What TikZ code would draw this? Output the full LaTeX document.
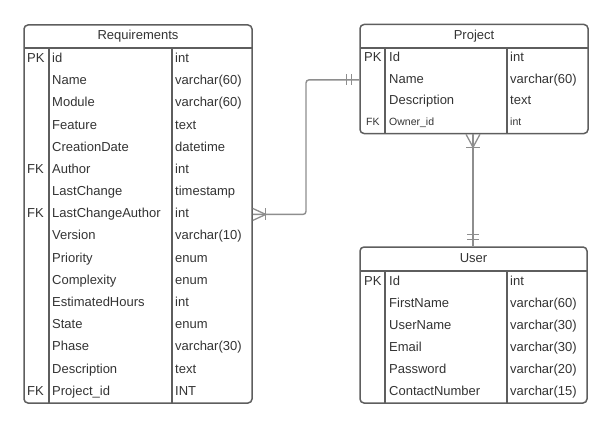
\documentclass[tikz,border=0pt]{standalone}
\usepackage{fontspec}
\setmainfont{Liberation Sans}
\definecolor{boxgray}{HTML}{5E5E5E}
\definecolor{linegray}{HTML}{8E8E8E}
\definecolor{txtgray}{HTML}{333333}
\begin{document}
\begin{tikzpicture}[x=1pt,y=-1pt,
  tbl/.style={draw=boxgray, line width=1.5pt, rounded corners=4pt, inner sep=0pt},
  sep/.style={draw=boxgray, line width=1.3pt},
  cell/.style={anchor=west, inner sep=0pt, text height=9.5pt, text depth=2.8pt,
    font=\fontsize{13}{15}\selectfont, text=txtgray},
  smallcell/.style={cell, font=\fontsize{10.5}{12}\selectfont},
  title/.style={cell, anchor=center},
  conn/.style={draw=linegray, line width=1.4pt, rounded corners=3pt},
  crow/.style={draw=linegray, line width=1.3pt}
]
\useasboundingbox (0,0) rectangle (612,428);

% ---------------- Requirements ----------------
\node[tbl, minimum width=228pt, minimum height=378pt] (req) at (138,214) {};
\draw[sep] (24,48) -- (252,48);
\draw[sep] (49,48) -- (49,403);
\draw[sep] (172,48) -- (172,403);
\node[title] (reqtitle) at (138,36) {Requirements};
\foreach [count=\i] \n/\t in {id/int, Name/varchar(60), Module/varchar(60),
  Feature/text, CreationDate/datetime, Author/int, LastChange/timestamp,
  LastChangeAuthor/int, Version/varchar(10), Priority/enum, Complexity/enum,
  EstimatedHours/int, State/enum, Phase/varchar(30), Description/text,
  Project\_id/INT} {
  \node[cell] (r\i) at (52,{48+(\i-0.5)*22.19}) {\n};
  \node[cell] (rt\i) at (175,{48+(\i-0.5)*22.19}) {\t};
}
\node[cell] (rk1) at (27,{48+0.5*22.19}) {PK};
\node[cell] (rk6) at (27,{48+5.5*22.19}) {FK};
\node[cell] (rk8) at (27,{48+7.5*22.19}) {FK};
\node[cell] (rk16) at (27,{48+15.5*22.19}) {FK};

% ---------------- Project ----------------
\node[tbl, minimum width=228pt, minimum height=109pt] (proj) at (474,79) {};
\draw[sep] (360,48) -- (588,48);
\draw[sep] (385,48) -- (385,133);
\draw[sep] (507,48) -- (507,133);
\node[title] (projtitle) at (474,36) {Project};
\foreach [count=\i] \n/\t in {Id/int, Name/varchar(60), Description/text} {
  \node[cell] (p\i) at (389,{48+(\i-0.5)*21.25}) {\n};
  \node[cell] (pt\i) at (510,{48+(\i-0.5)*21.25}) {\t};
}
\node[smallcell] (p4) at (389,{48+3.5*21.25}) {Owner\_id};
\node[smallcell] (pt4) at (510,{48+3.5*21.25}) {int};
\node[cell] (pk1) at (364,{48+0.5*21.25}) {PK};
\node[smallcell] (pk4) at (366,{48+3.5*21.25}) {FK};

% ---------------- User ----------------
\node[tbl, minimum width=227pt, minimum height=156pt] (usr) at (473.5,325) {};
\draw[sep] (360,271) -- (587,271);
\draw[sep] (385,271) -- (385,403);
\draw[sep] (507,271) -- (507,403);
\node[title] (usrtitle) at (473.5,259) {User};
\foreach [count=\i] \n/\t in {Id/int, FirstName/varchar(60), UserName/varchar(30),
  Email/varchar(30), Password/varchar(20), ContactNumber/varchar(15)} {
  \node[cell] (u\i) at (389,{271+(\i-0.5)*22}) {\n};
  \node[cell] (ut\i) at (510,{271+(\i-0.5)*22}) {\t};
}
\node[cell] (uk1) at (364,{271+0.5*22}) {PK};

% ---------------- Relationships ----------------
% Requirements.LastChangeAuthor (many) -- Project (exactly one)
\coordinate (bendx) at (306,0);
\coordinate (reqend) at (req.east |- r8);
\coordinate (projend) at (proj.west |- p2);
\draw[conn] (reqend) -- (bendx |- reqend) -- (bendx |- projend) -- (projend);
\draw[crow] (reqend) ++(0,-6) -- ++(13,6) -- ++(-13,6);
\draw[crow] (reqend) ++(13,-6) -- ++(0,12);
\draw[crow] (projend) ++(-13,-5.5) -- ++(0,11);
\draw[crow] (projend) ++(-8,-5.5) -- ++(0,11);

% Project (many) -- User (exactly one)
\coordinate (colx) at (473,0);
\coordinate (projbot) at (colx |- proj.south);
\coordinate (usrtop) at (colx |- usr.north);
\draw[conn] (projbot) -- (usrtop);
\draw[crow] (projbot) ++(-7,0) -- ++(7,13) -- ++(7,-13);
\draw[crow] (projbot) ++(-7,13) -- ++(14,0);
\draw[crow] (usrtop) ++(-6,-12) -- ++(12,0);
\draw[crow] (usrtop) ++(-6,-7) -- ++(12,0);
\end{tikzpicture}
\end{document}
